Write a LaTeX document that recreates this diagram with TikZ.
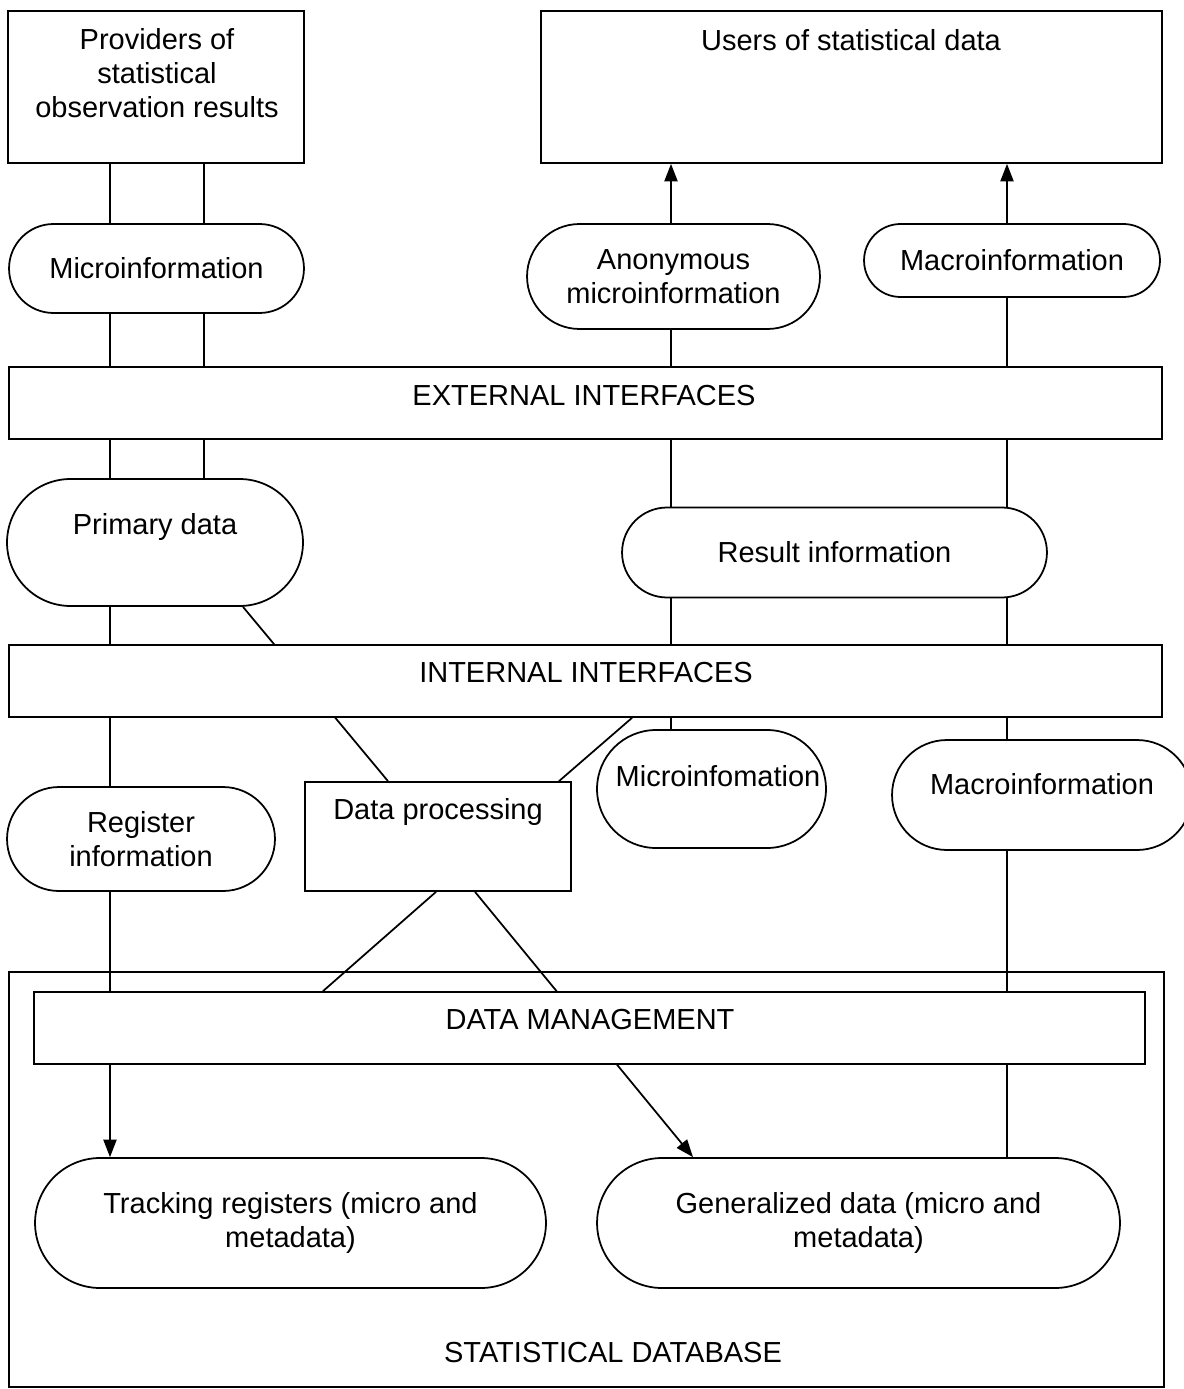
\documentclass[tikz,border=0pt]{standalone}
\usepackage{fontspec}
\setmainfont{Liberation Sans}
\usetikzlibrary{shapes.misc, arrows.meta, backgrounds}

\tikzset{
  box/.style={draw, line width=1pt, fill=white, inner sep=0pt},
  pill/.style={draw, line width=1pt, fill=white, rounded rectangle, inner sep=0pt, align=center},
  txt/.style={inner sep=0pt, align=center},
  link/.style={line width=1pt},
  arr/.style={line width=1pt, -{Triangle[length=10pt,width=7.5pt]}},
}

\begin{document}
\begin{tikzpicture}[x=0.02cm, y=-0.02cm, font=\fontsize{16.5}{19.4}\selectfont]
    \useasboundingbox (0,0) rectangle (1183,1389);

    \foreach \c/\x in {cA/110, cB/204, cC/671, cD/1007, dA/243, dB/388, dC/632, dD/559, dE/436, dF/323, dG/475, dH/693} {
        \coordinate (\c) at (\x,0);
    }

    \node[box, minimum width=5.92cm, minimum height=3.04cm] (prov) at (156,87) {};
    \node[txt] (provt) at (157,73) {Providers of\\statistical\\observation results};
    \node[box, minimum width=12.42cm, minimum height=3.04cm] (users) at (851.5,87) {};
    \node[txt] (userst) at (851,40) {Users of statistical data};

    \node[pill, minimum width=5.9cm, minimum height=1.78cm] (micro) at (156.5,268.5) {Microinformation};
    \node[pill, minimum width=5.86cm, minimum height=2.1cm] (anon) at (673.5,276.5) {Anonymous\\microinformation};
    \node[pill, minimum width=5.92cm, minimum height=1.46cm] (macroA) at (1012,260.5) {Macroinformation};

    \node[box, minimum width=23.06cm, minimum height=1.44cm] (ext) at (585.5,403) {};
    \node[txt] (extt) at (584,396) {EXTERNAL INTERFACES};

    \node[pill, minimum width=5.92cm, minimum height=2.54cm] (prim) at (155,542.5) {};
    \node[txt] (primt) at (155,527) {Primary data};
    \node[pill, minimum width=8.5cm, minimum height=1.8cm] (res) at (834.5,552.5) {Result information};

    \node[box, minimum width=23.06cm, minimum height=1.44cm] (int) at (585.5,681) {};
    \node[txt] (intt) at (586,673) {INTERNAL INTERFACES};

    \node[pill, minimum width=5.36cm, minimum height=2.08cm] (reg) at (141,839) {Register\\information};
    \node[box, minimum width=5.32cm, minimum height=2.18cm] (dp) at (438,836.5) {};
    \node[txt] (dpt) at (438,812) {Data processing};
    \node[pill, minimum width=4.58cm, minimum height=2.36cm] (microB) at (711.5,789) {};
    \node[txt] (microBt) at (718,776) {Microinfomation};
    \node[pill, minimum width=6cm, minimum height=2.2cm] (macroB) at (1042,795) {};
    \node[txt] (macroBt) at (1042,784) {Macroinformation};

    \node[draw, line width=1pt, inner sep=0pt, minimum width=23.1cm, minimum height=8.3cm] (db) at (586.5,1179.5) {};
    \node[txt] (dbt) at (613,1353) {STATISTICAL DATABASE};
    \node[box, minimum width=22.22cm, minimum height=1.44cm] (dm) at (589.5,1028) {};
    \node[txt] (dmt) at (590,1020) {DATA MANAGEMENT};
    \node[pill, minimum width=10.22cm, minimum height=2.6cm] (track) at (290.5,1223) {Tracking registers (micro and\\metadata)};
    \node[pill, minimum width=10.46cm, minimum height=2.6cm] (gen) at (858.5,1223) {Generalized data (micro and\\metadata)};

    \begin{scope}[on background layer]
        \draw[arr] (prov.south -| cA) -- (track.north -| cA);
        \draw[link] (prov.south -| cB) -- (prim.north -| cB);
        \draw[arr] (microB.north -| cC) -- (users.south -| cC);
        \draw[arr] (gen.north -| cD) -- (users.south -| cD);
        \draw[link] (prim.south -| dA) -- (dp.north -| dB);
        \draw[link] (int.south -| dC) -- (dp.north -| dD);
        \draw[link] (dp.south -| dE) -- (dm.north -| dF);
        \draw[arr] (dp.south -| dG) -- (gen.north -| dH);
    \end{scope}
\end{tikzpicture}
\end{document}
